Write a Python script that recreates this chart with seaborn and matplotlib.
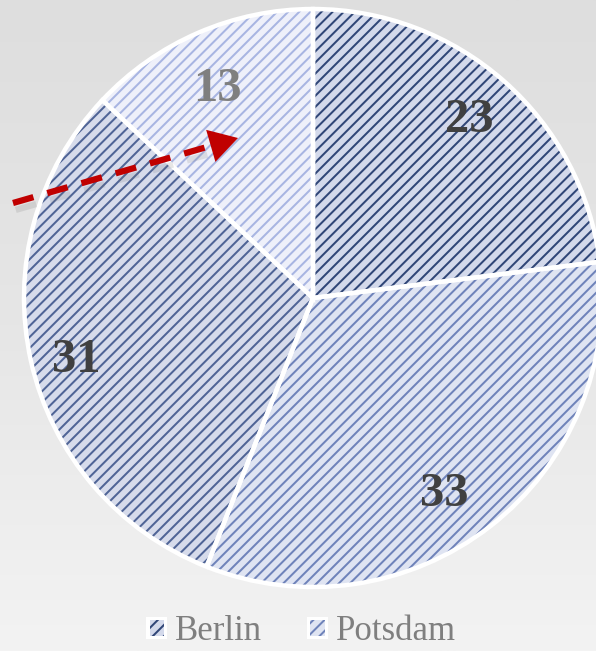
import numpy as np
import matplotlib
matplotlib.use("Agg")
import matplotlib.pyplot as plt
import matplotlib.patheffects as pe
from matplotlib.patches import Patch, Rectangle
from matplotlib.legend_handler import HandlerBase
from matplotlib.colors import LinearSegmentedColormap
import seaborn as sns

# ---- data ----
values = [23, 33, 31, 13]
legend_labels = ["Berlin", "Potsdam"]
fill_colors = ["#d3d9eb", "#dfe4f2", "#d6dbeb", "#eef0fa"]
hatch_colors = ["#304677", "#6f83ba", "#4f6496", "#a8b5e2"]
label_colors = ["#404040", "#404040", "#404040", "#7f7f7f"]
# label placement tweaks (pixel nudges) - style only
label_nudge = [(0, 0), (-14, -9), (-5, -10), (-2, -8)]

sns.set_theme(style="white")
plt.rcParams["font.family"] = ["Liberation Serif", "DejaVu Serif"]
plt.rcParams["hatch.linewidth"] = 1.45

W, H = 596, 651
fig = plt.figure(figsize=(W / 100, H / 100), dpi=100)

# background gradient
bg = fig.add_axes([0, 0, 1, 1])
grad = np.linspace(0, 1, 256).reshape(-1, 1)
cmap = LinearSegmentedColormap.from_list("bg", ["#dedede", "#e6e6e6", "#f3f3f3"])
bg.imshow(grad, aspect="auto", cmap=cmap, extent=[0, 1, 0, 1], origin="upper")
bg.set_axis_off()

ax = fig.add_axes([0, 0, 1, 1])
ax.patch.set_alpha(0)

cx, cy, R = 313, H - 298, 289

wedges, texts, autotexts = ax.pie(
    values, center=(cx, cy), radius=R, startangle=90, counterclock=False,
    colors=fill_colors, autopct=lambda p: f"{p:.0f}", pctdistance=0.82,
    wedgeprops=dict(linewidth=0), frame=True,
)
for w, hc in zip(wedges, hatch_colors):
    w.set_edgecolor(hc)
    w.set_hatch("///")
    w.set_linewidth(0)
for t, c, (nx, ny) in zip(autotexts, label_colors, label_nudge):
    x, y = t.get_position()
    t.set_position((x + nx, y + ny))
    t.set_color(c)
    t.set_fontsize(35)
    t.set_fontweight("bold")

# white separators / outline
ax.pie(values, center=(cx, cy), radius=R, startangle=90, counterclock=False,
       colors=["none"] * len(values),
       wedgeprops=dict(linewidth=3.2, edgecolor="white", fill=False), frame=True)

# dashed red arrow
x0, y0 = 13, H - 203
xt, yt = 238, H - 138
dx, dy = xt - x0, yt - y0
L = np.hypot(dx, dy)
ux, uy = dx / L, dy / L
hb = 20
line, = ax.plot([x0, xt - ux * hb], [y0, yt - uy * hb], color="#c00000", lw=4.5,
                solid_capstyle="butt", dash_capstyle="butt")
line.set_dashes((3.4, 2.3))
line.set_path_effects([pe.SimpleLineShadow(offset=(2, -5), shadow_color="#777777", alpha=0.18),
                       pe.Normal()])
ax.annotate("", xy=(xt, yt), xytext=(xt - ux * (hb + 2), yt - uy * (hb + 2)),
            arrowprops=dict(arrowstyle="-|>,head_length=0.85,head_width=0.5",
                            color="#c00000", lw=0, mutation_scale=24,
                            shrinkA=0, shrinkB=0))

ax.set_xlim(0, W)
ax.set_ylim(0, H)
ax.set_aspect("auto")
ax.set_axis_off()


class BorderedHandler(HandlerBase):
    def create_artists(self, legend, orig, xdescent, ydescent, width, height, fontsize, trans):
        outer = Rectangle((-xdescent, -ydescent), width, height, facecolor="white",
                          edgecolor="none", transform=trans)
        pad = 2.2
        inner = Rectangle((-xdescent + pad, -ydescent + pad), width - 2 * pad, height - 2 * pad,
                          facecolor=orig.get_facecolor(), edgecolor=orig.get_edgecolor(),
                          hatch="///", linewidth=0, transform=trans)
        return [outer, inner]


handles = [Patch(facecolor=fill_colors[i], edgecolor=hatch_colors[i])
           for i in range(len(legend_labels))]
leg = ax.legend(handles, legend_labels, loc="center", bbox_to_anchor=(301 / W, 1 - 632 / H),
                ncol=2, frameon=False, fontsize=25, handlelength=0.6, handleheight=0.6,
                handletextpad=0.22, columnspacing=1.3, borderpad=0,
                handler_map={Patch: BorderedHandler()})
for t in leg.get_texts():
    t.set_color("#7f7f7f")

fig.savefig("out.png", dpi=100)
